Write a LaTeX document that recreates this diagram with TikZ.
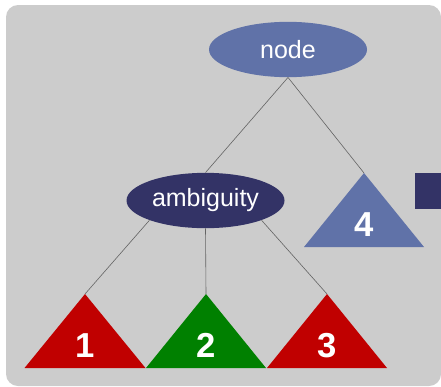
\documentclass[tikz,border=0pt]{standalone}
\usepackage{fontspec}
\setmainfont{Liberation Sans}
\usetikzlibrary{shapes.geometric}
\definecolor{panelgray}{RGB}{204,204,204}
\definecolor{slateblue}{RGB}{96,114,168}
\definecolor{navy}{RGB}{51,51,102}
\definecolor{treered}{RGB}{192,0,0}
\definecolor{treegreen}{RGB}{0,128,0}
\definecolor{linegray}{RGB}{100,100,100}
\tikzstyle{topnode} = [ellipse, fill=slateblue, text=white, minimum width=118.5pt, minimum height=41.5pt, inner sep=0pt, font=\fontsize{18.75}{20}\selectfont]
\tikzstyle{ambnode} = [topnode, fill=navy]
\tikzstyle{num} = [text=white, inner sep=0pt, font=\fontsize{26}{28}\selectfont\bfseries]
\tikzstyle{branch} = [draw=linegray, line width=0.45pt]

\begin{document}
\begin{tikzpicture}[x=0.75pt, y=-0.75pt]
        \useasboundingbox (0,0) rectangle (441,386);
        \clip (0,0) rectangle (441,386);
        \fill[panelgray, rounded corners=9pt] (6,5) rectangle (441,386);
        \fill[navy] (415,173) rectangle (445,209);

        \node (root) [topnode] at (288,49.5) {node};
        \node (amb) [ambnode] at (205.5,200.5) {ambiguity};

        % subtrees: apex coordinate, filled triangle, number
        \coordinate (t1) at (85,294);
        \coordinate (t2) at (206,294);
        \coordinate (t3) at (327,294);
        \coordinate (t4) at (364,173);
        \fill[treered] (t1) -- ++(-60.5,74) -- ++(121,0) -- cycle;
        \fill[treegreen] (t2) -- ++(-60,74) -- ++(120,0) -- cycle;
        \fill[treered] (t3) -- ++(-60,74) -- ++(120,0) -- cycle;
        \fill[slateblue] (t4) -- ++(-60,74) -- ++(120,0) -- cycle;
        \node (n1) [num] at (85,345.5) {1};
        \node (n2) [num] at (206,345.5) {2};
        \node (n3) [num] at (327,345.5) {3};
        \node (n4) [num] at (364,225) {4};

        \draw [branch] (root.south) -- (amb.north);
        \draw [branch] (root.south) -- (t4);
        \draw [branch] (amb.south west) -- (t1);
        \draw [branch] (amb.south) -- (t2);
        \draw [branch] (amb.south east) -- (t3);
    \end{tikzpicture}
\end{document}
